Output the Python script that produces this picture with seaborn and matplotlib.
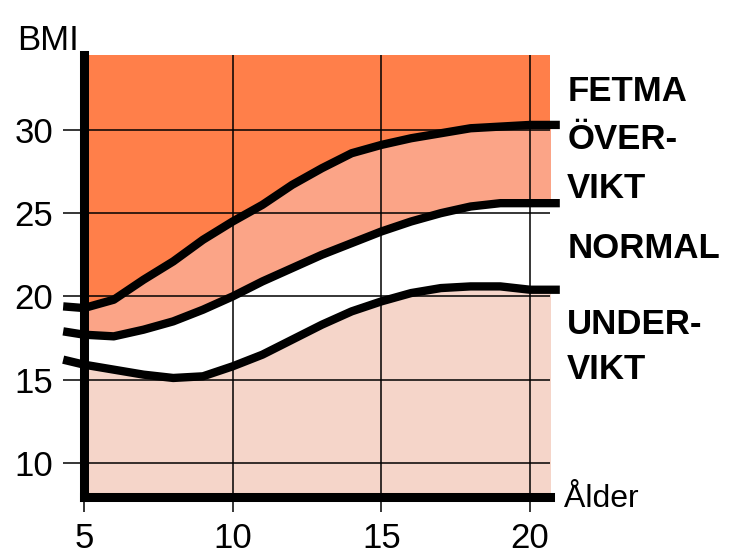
import matplotlib
matplotlib.use("Agg")
import matplotlib.pyplot as plt
import seaborn as sns
import numpy as np

# age (years) and BMI cut-off curves
age = [4.3, 5, 6, 7, 8, 9, 10, 11, 12, 13, 14, 15, 16, 17, 18, 19, 20, 21]
fetma = [19.4, 19.3, 19.8, 21.0, 22.1, 23.4, 24.5, 25.5, 26.7, 27.7, 28.6, 29.1, 29.5, 29.8, 30.1, 30.2, 30.3, 30.3]
overvikt = [17.9, 17.7, 17.6, 18.0, 18.5, 19.2, 20.0, 20.9, 21.7, 22.5, 23.2, 23.9, 24.5, 25.0, 25.4, 25.6, 25.6, 25.6]
undervikt = [16.2, 15.9, 15.6, 15.3, 15.1, 15.2, 15.8, 16.5, 17.4, 18.3, 19.1, 19.7, 20.2, 20.5, 20.6, 20.6, 20.4, 20.4]

x_ticks = [5, 10, 15, 20]
y_ticks = [10, 15, 20, 25, 30]
zone_labels = ["FETMA", "ÖVER-", "VIKT", "NORMAL", "UNDER-", "VIKT"]
zone_y = [32.3, 29.4, 26.5, 22.9, 18.3, 15.6]

c_fetma = "#FF7F4A"
c_over = "#FBA487"
c_under = "#F5D5C9"

sns.set_theme(style="white", rc={"text.color": "black", "xtick.color": "black",
                                 "ytick.color": "black", "axes.labelcolor": "black"})
plt.rcParams["font.family"] = ["Liberation Sans", "DejaVu Sans"]

fig = plt.figure(figsize=(7.34, 5.57), dpi=100)
ax = fig.add_axes([84 / 734, 1 - 497 / 557, (550 - 84) / 734, (497 - 55) / 557])
ax.set_xlim(5, 20.67)
ax.set_ylim(7.95, 34.5)
ax.set_facecolor(c_fetma)

a = np.array(age)
ax.fill_between(a, overvikt, fetma, color=c_over, lw=0, zorder=1)
ax.fill_between(a, undervikt, overvikt, color="white", lw=0, zorder=1)
ax.fill_between(a, 0, undervikt, color=c_under, lw=0, zorder=1)

for v in x_ticks[1:]:
    ax.axvline(v, color="black", lw=1.1, zorder=2)
for v in y_ticks:
    ax.axhline(v, color="black", lw=1.1, zorder=2)

for curve in [fetma, overvikt, undervikt]:
    sns.lineplot(x=age, y=curve, ax=ax, color="black", lw=6, zorder=4,
                 clip_on=False, sort=False, solid_capstyle="butt")

for s in ["top", "right"]:
    ax.spines[s].set_visible(False)
for s in ["left", "bottom"]:
    ax.spines[s].set_linewidth(6.5)
    ax.spines[s].set_color("black")
    ax.spines[s].set_zorder(5)

ax.set_xticks(x_ticks)
ax.set_yticks(y_ticks)
ax.tick_params(axis="y", direction="out", length=15, width=1.1, color="black",
               pad=7, labelsize=25, left=True, labelcolor="black")
ax.tick_params(axis="x", direction="out", length=11, width=1.1, color="black",
               pad=7, labelsize=25, bottom=True, labelcolor="black")
ax.set_xlabel("")
ax.set_ylabel("")

for lab, yy in zip(zone_labels, zone_y):
    ax.text(21.25, yy, lab, fontsize=25, fontweight="bold", va="center",
            ha="left", clip_on=False, color="black")
ax.text(21.15, 7.8, "Ålder", fontsize=23, va="center", ha="left",
        clip_on=False, color="black")
ax.text(2.75, 35.4, "BMI", fontsize=25, va="center", ha="left",
        clip_on=False, color="black")

fig.savefig("out.png", dpi=100)
